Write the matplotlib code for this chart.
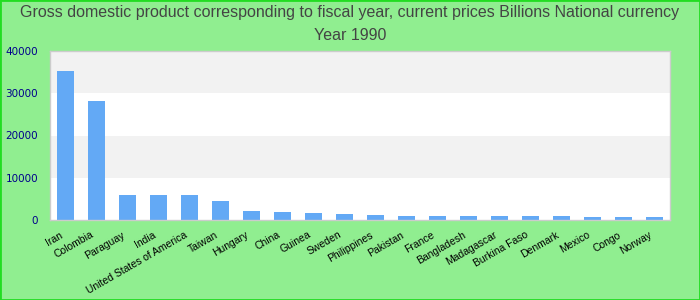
import matplotlib
matplotlib.use("Agg")
import matplotlib.pyplot as plt
import matplotlib.transforms as mtransforms
from matplotlib.patches import Rectangle

countries = ["Iran", "Colombia", "Paraguay", "India", "United States of America",
             "Taiwan", "Hungary", "China", "Guinea", "Sweden", "Philippines",
             "Pakistan", "France", "Bangladesh", "Madagascar", "Burkina Faso",
             "Denmark", "Mexico", "Congo", "Norway"]
gdp = [35300, 28200, 5900, 5900, 5850, 4500, 2130, 1890, 1660, 1420, 1180,
       950, 950, 950, 950, 950, 950, 710, 710, 710]
y_ticks = [0, 10000, 20000, 30000, 40000]

title_lines = ["Gross domestic product corresponding to fiscal year, current prices Billions National currency",
               "Year 1990"]

fig = plt.figure(figsize=(7, 3), dpi=100, facecolor="#90ee90")
fig.patches.append(Rectangle((0, 0), 1, 1, transform=fig.transFigure,
                             fill=False, edgecolor="#22dd22", linewidth=2))

ax = fig.add_axes([50 / 700, 80 / 300, 620 / 700, 169 / 300])
ax.set_facecolor("white")
ax.set_xlim(-0.5, len(countries) - 0.5)
ax.set_ylim(0, 40000)

# alternating horizontal bands
for i in range(len(y_ticks) - 1):
    if i % 2 == 1:
        ax.axhspan(y_ticks[i], y_ticks[i + 1], color="#f2f2f2", zorder=0, lw=0)

ax.bar(range(len(countries)), gdp, width=0.55, color="#63a9f5", zorder=2)

for s in ax.spines.values():
    s.set_color("#cccccc")
    s.set_linewidth(1)

ax.set_yticks(y_ticks)
ax.set_yticklabels([str(v) for v in y_ticks], color="#00008b", fontsize=7.5,
                   family="DejaVu Sans")
ax.tick_params(axis="y", length=0, pad=8.5)
ax.set_xticks(range(len(countries)))
ax.set_xticklabels(countries, rotation=30, ha="right", rotation_mode="anchor",
                   fontsize=7.5, family="Liberation Sans", color="black")
ax.tick_params(axis="x", length=0, pad=7)
shift = mtransforms.ScaledTranslation(-6 / 100, 0, fig.dpi_scale_trans)
for lbl in ax.get_xticklabels():
    lbl.set_transform(lbl.get_transform() + shift)

fig.text(0.5, 1 - 13 / 300, title_lines[0], ha="center", va="center",
         fontsize=11.5, family="Liberation Sans", color="#444444")
fig.text(0.5, 1 - 36 / 300, title_lines[1], ha="center", va="center",
         fontsize=11.5, family="Liberation Sans", color="#444444")

fig.savefig("out.png", dpi=100, facecolor=fig.get_facecolor())
